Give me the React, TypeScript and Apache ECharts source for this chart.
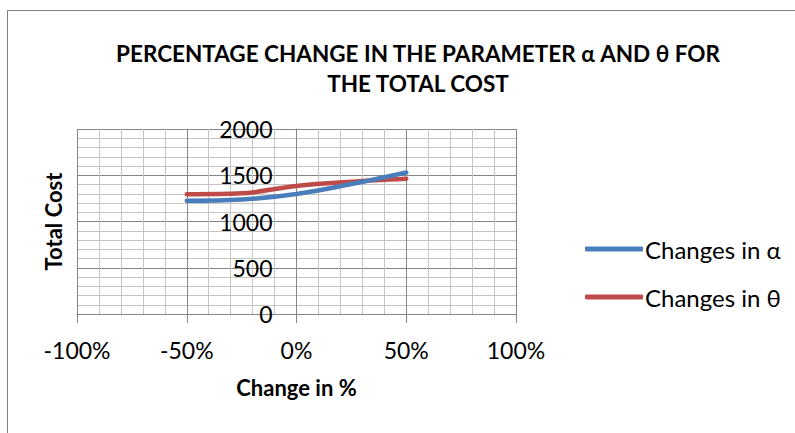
import React, { useEffect, useRef } from "react";
import * as echarts from "echarts";

const changePct = [-0.5, -0.25, 0, 0.25, 0.5];
const alphaCost = [1225, 1238, 1298, 1405, 1530];
const thetaCost = [1295, 1305, 1385, 1430, 1462];
const seriesNames = ["Changes in α", "Changes in θ"];
const titleText = "PERCENTAGE CHANGE IN THE PARAMETER α AND θ FOR\nTHE TOTAL COST";
const xName = "Change in %";
const yName = "Total Cost";

const FONT = "Lato, 'Open Sans', sans-serif";

export default function App() {
  const ref = useRef<HTMLDivElement>(null);
  useEffect(() => {
    if (!ref.current) return;
    const chart = echarts.init(ref.current, null, { renderer: "svg" });
    const major = "#868686";
    const minor = "#c4c4c4";
    const gridLeft = 77;
    const gridWidth = 439;
    chart.setOption({
      animation: false,
      backgroundColor: "#ffffff",
      textStyle: { fontFamily: FONT, color: "#000" },
      title: {
        text: titleText,
        left: 413,
        top: 33,
        textAlign: "center",
        textStyle: { fontFamily: FONT, fontSize: 22.5, fontWeight: "bold", color: "#000", lineHeight: 30 },
      },
      graphic: [
        {
          type: "rect",
          shape: { x: 7.5, y: 10.5, width: 800, height: 440 },
          style: { fill: "none", stroke: "#7f7f7f", lineWidth: 1 },
          silent: true,
        },
      ],
      legend: {
        orient: "vertical",
        left: 580,
        top: 231,
        itemGap: 22,
        itemWidth: 58,
        itemHeight: 5,
        icon: "roundRect",
        textStyle: { fontFamily: FONT, fontSize: 24, color: "#000", lineHeight: 26, padding: [0, 0, 0, -3] },
        itemStyle: { borderWidth: 0 },
        data: seriesNames,
      },
      grid: { left: gridLeft, top: 129, width: gridWidth, height: 185, containLabel: false, outerBoundsMode: "none" },
      xAxis: {
        type: "value",
        min: -1,
        max: 1,
        interval: 0.5,
        name: xName,
        nameLocation: "middle",
        nameGap: 62,
        nameTextStyle: { fontFamily: FONT, fontSize: 22, fontWeight: "bold", color: "#000" },
        axisLine: { show: true, lineStyle: { color: major, width: 1 } },
        axisTick: { show: true, length: 9, lineStyle: { color: major } },
        axisLabel: {
          margin: 24,
          fontFamily: FONT,
          fontSize: 23,
          color: "#000",
          formatter: (v: number) => `${Math.round(v * 100)}%`,
        },
        splitLine: { show: true, lineStyle: { color: major, width: 1 } },
        minorTick: { show: false, splitNumber: 5 },
        minorSplitLine: { show: true, lineStyle: { color: minor, width: 1 } },
      },
      yAxis: {
        type: "value",
        min: 0,
        max: 2000,
        interval: 500,
        offset: -gridWidth / 2,
        name: yName,
        nameLocation: "middle",
        nameGap: 232,
        nameRotate: 90,
        nameTextStyle: { fontFamily: FONT, fontSize: 22, fontWeight: "bold", color: "#000" },
        axisLine: { show: true, onZero: false, lineStyle: { color: major, width: 1 } },
        axisTick: { show: true, length: 8, lineStyle: { color: major } },
        axisLabel: {
          margin: 24,
          fontFamily: FONT,
          fontSize: 23,
          color: "#000",
          formatter: (v: number) => String(v),
        },
        splitLine: { show: true, lineStyle: { color: major, width: 1 } },
        minorTick: { show: false, splitNumber: 5 },
        minorSplitLine: { show: true, lineStyle: { color: minor, width: 1 } },
      },
      series: [
        {
          name: seriesNames[0],
          type: "line",
          data: changePct.map((x, i) => [x, alphaCost[i]]),
          smooth: 0.4,
          showSymbol: false,
          symbol: "none",
          color: "#4a7ebb",
          lineStyle: { color: "#4a7ebb", width: 4.5, cap: "round", join: "round" },
          z: 3,
        },
        {
          name: seriesNames[1],
          type: "line",
          data: changePct.map((x, i) => [x, thetaCost[i]]),
          smooth: 0.35,
          showSymbol: false,
          symbol: "none",
          color: "#be4b48",
          lineStyle: { color: "#be4b48", width: 4.5, cap: "round", join: "round" },
          z: 2,
        },
      ],
    });
    return () => chart.dispose();
  }, []);
  return (
    <div
      ref={ref}
      style={{ position: "fixed", left: 0, top: 0, width: 795, height: 433 }}
    />
  );
}
